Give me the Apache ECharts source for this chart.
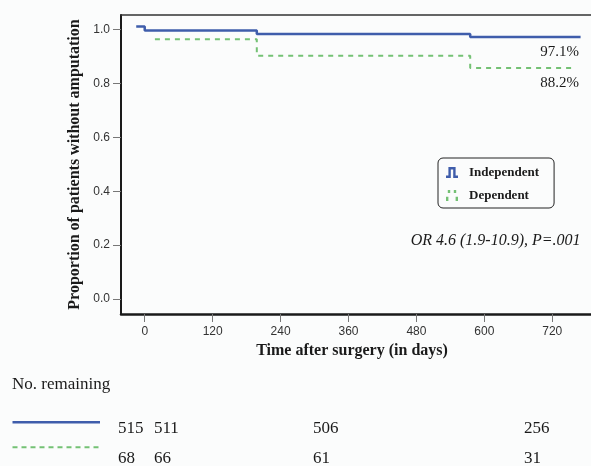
<!DOCTYPE html>
<html>
<head>
<meta charset="utf-8">
<script src="https://cdn.jsdelivr.net/npm/echarts@6/dist/echarts.min.js"></script>
<style>
html,body{margin:0;padding:0;background:#fbfcfc;}
#chart{width:591px;height:466px;}
</style>
</head>
<body>
<div id="chart"></div>
<script>
// ---- data ----
const seriesNames = ['Independent', 'Dependent'];
const timeTicks = [0, 120, 240, 360, 480, 600, 720];
const yTicks = [0, 0.2, 0.4, 0.6, 0.8, 1.0];
const indepTimes = [-15, 0, 198, 575, 770];
const indepSurv = [1.012, 0.997, 0.984, 0.973, 0.973];
const depTimes = [18, 198, 575, 760];
const depSurv = [0.965, 0.903, 0.858, 0.858];
const finalLabels = ['97.1%', '88.2%'];
const statText = 'OR 4.6 (1.9-10.9), P=.001';
const riskTitle = 'No. remaining';
const riskIndep = [515, 511, 506, 256];
const riskDep = [68, 66, 61, 31];
const xName = 'Time after surgery (in days)';
const yName = 'Proportion of patients without amputation';

// ---- layout / style ----
const BLUE = '#3f5dab';
const GREEN = '#74c174';
const SERIF = '"Liberation Serif", "Times New Roman", serif';
const SANS = '"Liberation Sans", Arial, sans-serif';
const riskX = [118, 154, 313, 524];

const chart = echarts.init(document.getElementById('chart'));

function pairs(xs, ys) { return xs.map((x, i) => [x, ys[i]]); }

const graphics = [];
graphics.push({ type: 'text', left: 12, top: 376, style: { text: riskTitle, font: '17px ' + SERIF, fill: '#1a1a1a' } });
graphics.push({ type: 'line', shape: { x1: 12.5, y1: 422.3, x2: 100, y2: 422.3 }, style: { stroke: BLUE, lineWidth: 2.5 } });
graphics.push({ type: 'line', shape: { x1: 12.5, y1: 447.3, x2: 100, y2: 447.3 }, style: { stroke: GREEN, lineWidth: 2, lineDash: [5, 4] } });
riskIndep.forEach((v, i) => graphics.push({ type: 'text', x: riskX[i], y: 429, style: { text: String(v), font: '17px ' + SERIF, fill: '#1a1a1a', textVerticalAlign: 'middle' } }));
riskDep.forEach((v, i) => graphics.push({ type: 'text', x: riskX[i], y: 459, style: { text: String(v), font: '17px ' + SERIF, fill: '#1a1a1a', textVerticalAlign: 'middle' } }));
graphics.push({ type: 'text', x: 579, y: 51.7, style: { text: finalLabels[0], font: '15px ' + SERIF, fill: '#1a1a1a', textAlign: 'right', textVerticalAlign: 'middle' } });
graphics.push({ type: 'text', x: 579, y: 83.3, style: { text: finalLabels[1], font: '15px ' + SERIF, fill: '#1a1a1a', textAlign: 'right', textVerticalAlign: 'middle' } });
graphics.push({ type: 'text', x: 410.7, y: 240.7, style: { text: statText, font: 'italic 16px ' + SERIF, fill: '#1a1a1a', textVerticalAlign: 'middle' } });

const option = {
  backgroundColor: '#fbfcfc',
  animation: false,
  grid: { left: 121, top: 15, right: 0, bottom: 152 },
  legend: {
    orient: 'vertical',
    left: 438, top: 158,
    padding: [7, 15, 5, 8],
    itemGap: 8,
    itemWidth: 12, itemHeight: 11,
    borderColor: '#222', borderWidth: 1, borderRadius: 5,
    backgroundColor: '#fbfcfc',
    itemStyle: { borderWidth: 0 },
    textStyle: { fontFamily: SERIF, fontWeight: 'bold', fontSize: 13, color: '#1a1a1a', lineHeight: 15, padding: [0, 0, 0, 6] },
    data: [
      { name: seriesNames[0], icon: 'path://M0,14h4V0h12v14h4v4h-8V4H8v14H0z' },
      { name: seriesNames[1], icon: 'path://M3,0h4v5h-4z M13,0h4v5h-4z M0,11h4v7h-4z M16,11h4v7h-4z' }
    ]
  },
  xAxis: [{
    type: 'value',
    min: -41.9, max: 788.4,
    name: xName,
    nameLocation: 'middle',
    nameGap: 29,
    nameTextStyle: { fontFamily: SERIF, fontWeight: 'bold', fontSize: 16, color: '#1a1a1a', padding: [0, 8, 0, 0] },
    axisLine: { show: true, onZero: false, lineStyle: { color: '#1a1a1a', width: 2.5 } },
    axisTick: { show: true, length: 8, customValues: timeTicks, lineStyle: { color: '#777', width: 1 } },
    axisLabel: { show: true, customValues: timeTicks, margin: 12, fontFamily: SANS, fontSize: 12, color: '#333' },
    splitLine: { show: false }
  }, {
    type: 'value', position: 'top',
    min: -41.9, max: 788.4,
    axisLine: { show: true, onZero: false, lineStyle: { color: '#333', width: 1.5 } },
    axisTick: { show: false }, axisLabel: { show: false }, splitLine: { show: false }
  }],
  yAxis: {
    type: 'value',
    min: -0.0557, max: 1.0546,
    name: yName,
    nameLocation: 'middle',
    nameGap: 38,
    nameTextStyle: { fontFamily: SERIF, fontWeight: 'bold', fontSize: 16, color: '#1a1a1a' },
    axisLine: { show: true, onZero: false, lineStyle: { color: '#1a1a1a', width: 2 } },
    axisTick: { show: true, length: 8, customValues: yTicks, lineStyle: { color: '#777', width: 1 } },
    axisLabel: { show: true, customValues: yTicks, margin: 11, fontFamily: SANS, fontSize: 12, color: '#333', formatter: v => v.toFixed(1) },
    splitLine: { show: false }
  },
  series: [
    {
      name: seriesNames[1], type: 'line', step: 'end', symbol: 'none', z: 2,
      color: GREEN,
      lineStyle: { color: GREEN, width: 2, type: [5, 5] },
      data: pairs(depTimes, depSurv)
    },
    {
      name: seriesNames[0], type: 'line', step: 'end', symbol: 'none', z: 3,
      color: BLUE,
      lineStyle: { color: BLUE, width: 2.5 },
      data: pairs(indepTimes, indepSurv)
    }
  ],
  graphic: graphics
};
chart.setOption(option);
</script>
</body>
</html>
